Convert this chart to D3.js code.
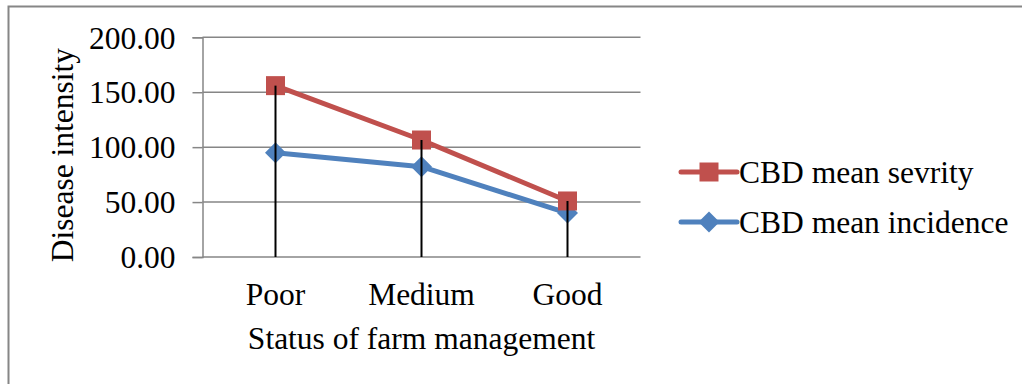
<!DOCTYPE html>
<html>
<head>
<meta charset="utf-8">
<script src="https://cdn.jsdelivr.net/npm/d3@7"></script>
<style>
  html, body { margin: 0; padding: 0; background: #fff; }
  svg { display: block; }
  text { font-family: "Liberation Serif", "Times New Roman", serif; fill: #000; }
</style>
</head>
<body>
<svg id="chart" width="1022" height="384"></svg>
<script>
// Farm management status categories
const categories = ["Poor", "Medium", "Good"];
// Coffee berry disease measurements per category
const severity = [156.0, 106.5, 51.0];
const incidence = [95.0, 82.2, 40.0];
const yTicks = [0, 50, 100, 150, 200];
const seriesNames = ["CBD mean sevrity", "CBD mean incidence"];

const svg = d3.select("#chart");
const fontSize = 31.5;

// outer chart frame
svg.append("rect")
  .attr("x", 8.5).attr("y", 6.5)
  .attr("width", 1030).attr("height", 420)
  .attr("fill", "#fff").attr("stroke", "#868686").attr("stroke-width", 2);

const plot = { left: 202.5, right: 640.5, top: 37.3, bottom: 257 };

const x = d3.scaleBand().domain(categories).range([plot.left, plot.right]).padding(0);
const cx = d => x(d) + x.bandwidth() / 2;
const y = d3.scaleLinear().domain([0, 200]).range([plot.bottom, plot.top]);

// horizontal gridlines
svg.append("g")
  .selectAll("line").data(yTicks).join("line")
  .attr("x1", plot.left).attr("x2", plot.right)
  .attr("y1", d => y(d)).attr("y2", d => y(d))
  .attr("stroke", "#868686").attr("stroke-width", 1.5);

// y axis with tick marks and labels
const yAxis = d3.axisLeft(y).tickValues(yTicks).tickSize(10).tickPadding(17)
  .tickFormat(d3.format(".2f"));
const gy = svg.append("g").attr("transform", `translate(${plot.left},0)`).call(yAxis);
gy.select(".domain").attr("stroke", "#868686").attr("stroke-width", 1.5);
gy.selectAll(".tick line").attr("stroke", "#868686").attr("stroke-width", 1.5);
gy.selectAll(".tick text")
  .attr("font-size", fontSize).attr("font-family", "Liberation Serif").attr("fill", "#000")
  .attr("dy", "0.34em");

// x axis category labels (no line or ticks)
const xAxis = d3.axisBottom(x).tickSize(0).tickPadding(0);
const gx = svg.append("g").attr("transform", `translate(0,${plot.bottom})`).call(xAxis);
gx.select(".domain").remove();
gx.selectAll(".tick text")
  .attr("font-size", fontSize).attr("font-family", "Liberation Serif").attr("fill", "#000")
  .attr("dy", null).attr("y", 48);

// axis titles
svg.append("text")
  .attr("x", (plot.left + plot.right) / 2).attr("y", 349)
  .attr("text-anchor", "middle").attr("font-size", fontSize)
  .text("Status of farm management");
svg.append("text")
  .attr("transform", `translate(73,${(plot.top + plot.bottom) / 2 + 8}) rotate(-90)`)
  .attr("text-anchor", "middle").attr("font-size", fontSize)
  .text("Disease intensity");

const colors = ["#C0504D", "#4F81BD"];
const data = [severity, incidence];

// marker shapes: square for severity, diamond (rotated square) for incidence
const squarePath = "M-9.5,-9.5H9.5V9.5H-9.5Z";
const diamondPath = "M0,-10.5L10.5,0L0,10.5L-10.5,0Z";
const markers = [squarePath, diamondPath];

const line = d3.line().x((d, i) => cx(categories[i])).y(d => y(d));

// series drawn back to front: incidence first, severity on top
[1, 0].forEach(s => {
  const g = svg.append("g");
  g.append("path").datum(data[s])
    .attr("d", line).attr("fill", "none")
    .attr("stroke", colors[s]).attr("stroke-width", 5).attr("stroke-linejoin", "round");
  g.selectAll("path.mk").data(data[s]).join("path").attr("class", "mk")
    .attr("transform", (d, i) => `translate(${cx(categories[i])},${y(d)})`)
    .attr("d", markers[s]).attr("fill", colors[s]);
});

// drop lines from the highest value down to the category axis
svg.append("g").selectAll("line").data(categories).join("line")
  .attr("x1", d => cx(d)).attr("x2", d => cx(d))
  .attr("y1", (d, i) => y(Math.max(severity[i], incidence[i])))
  .attr("y2", y(0))
  .attr("stroke", "#000").attr("stroke-width", 2);

// legend
const legendY = [172, 222];
const lg = svg.append("g");
seriesNames.forEach((name, s) => {
  const ly = legendY[s];
  lg.append("line").attr("x1", 681).attr("x2", 737).attr("y1", ly).attr("y2", ly)
    .attr("stroke", colors[s]).attr("stroke-width", 5).attr("stroke-linecap", "round");
  lg.append("path").attr("transform", `translate(709,${ly})`)
    .attr("d", markers[s]).attr("fill", colors[s]);
  lg.append("text").attr("x", 739).attr("y", ly).attr("dy", "0.34em")
    .attr("font-size", fontSize).text(name);
});
</script>
</body>
</html>
